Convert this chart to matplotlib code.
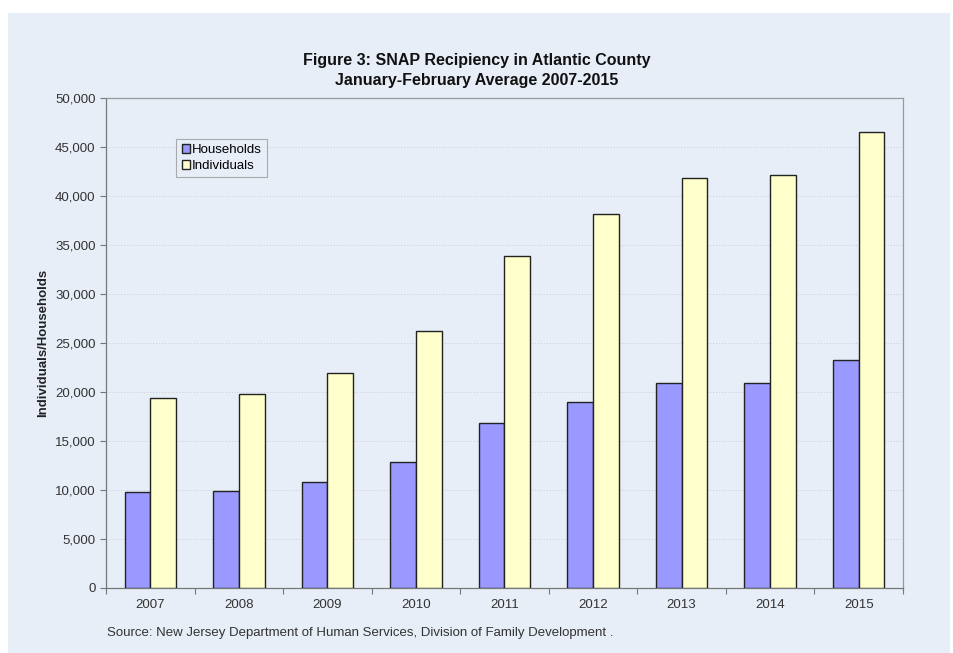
import matplotlib.pyplot as plt
import numpy as np
from matplotlib.ticker import FuncFormatter, MultipleLocator

years = ["2007", "2008", "2009", "2010", "2011", "2012", "2013", "2014", "2015"]
households = [9750, 9900, 10800, 12850, 16800, 19000, 20900, 20950, 23250]
individuals = [19400, 19800, 21900, 26200, 33850, 38150, 41850, 42100, 46550]

plt.rcParams['font.family'] = ['Liberation Sans', 'DejaVu Sans']

bg = "#e7eef8"
fig = plt.figure(figsize=(9.54, 6.53), dpi=100)
fig.patch.set_facecolor("white")
# light blue panel behind the chart
fig.patches.append(plt.Rectangle((8 / 954, 0), 942 / 954, 640 / 653,
                                 transform=fig.transFigure, facecolor=bg,
                                 edgecolor="none", zorder=-10))

ax = fig.add_axes([106 / 954, 1 - 588 / 653, 797 / 954, 490 / 653])
ax.set_facecolor(bg)

x = np.arange(len(years))
w = 0.29
ax.bar(x - w / 2, households, w, color="#9999ff", edgecolor="#222222",
       linewidth=1.0, label="Households", zorder=3)
ax.bar(x + w / 2, individuals, w, color="#ffffcc", edgecolor="#222222",
       linewidth=1.0, label="Individuals", zorder=3)

ax.set_xlim(-0.5, len(years) - 0.5)
ax.set_ylim(0, 50000)
ax.yaxis.set_major_locator(MultipleLocator(5000))
ax.yaxis.set_major_formatter(FuncFormatter(lambda v, p: f"{int(v):,}"))
ax.grid(axis="y", color="#c8ccd4", linestyle=(0, (1, 2)), linewidth=0.7, zorder=0)

# category labels centred, tick marks between categories
ax.set_xticks(np.arange(-0.5, len(years)), minor=False)
ax.set_xticklabels([])
ax.set_xticks(x, minor=True)
ax.set_xticklabels(years, minor=True)
ax.tick_params(axis="x", which="minor", length=0, pad=8, labelsize=9.5, labelcolor="#333333")
ax.tick_params(axis="x", which="major", length=4, color="#777777")
ax.tick_params(axis="y", length=4, color="#777777", labelsize=9.5, labelcolor="#333333")

for s in ax.spines.values():
    s.set_color("#999999")
    s.set_linewidth(0.9)
ax.spines["left"].set_color("#777777")
ax.spines["bottom"].set_color("#777777")

ax.set_ylabel("Individuals/Households", fontsize=9.5, fontweight="bold", color="#222222", labelpad=4)

fig.text(0.5, 1 - 60 / 653, "Figure 3: SNAP Recipiency in Atlantic County",
         ha="center", va="center", fontsize=11.5, fontweight="bold", color="#111111")
fig.text(0.5, 1 - 80 / 653, "January-February Average 2007-2015",
         ha="center", va="center", fontsize=11.5, fontweight="bold", color="#111111")

leg = ax.legend(loc="upper left", bbox_to_anchor=(0.08, 0.93), fontsize=9.5,
                frameon=True, fancybox=False, handlelength=0.6, handleheight=0.6,
                handletextpad=0.2, borderpad=0.4, labelspacing=0.3)
leg.get_frame().set_facecolor(bg)
leg.get_frame().set_edgecolor("#999999")
leg.get_frame().set_linewidth(0.8)

fig.text(107 / 954, 1 - 633 / 653,
         "Source: New Jersey Department of Human Services, Division of Family Development .",
         ha="left", va="center", fontsize=9.5, color="#333333")

fig.savefig("out.png", dpi=100, facecolor=fig.get_facecolor())
